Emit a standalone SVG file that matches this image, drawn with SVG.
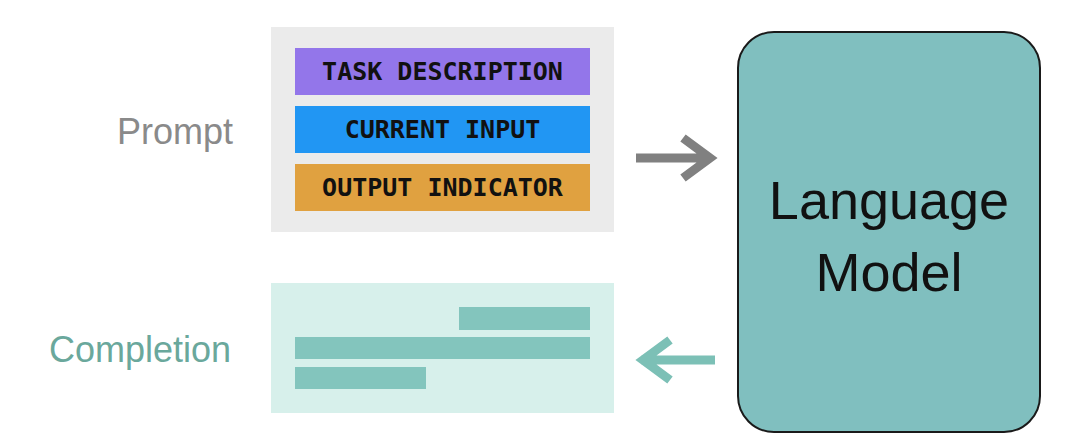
<svg xmlns="http://www.w3.org/2000/svg" width="1080" height="448" viewBox="0 0 1080 448">
<style>
.lbl{font-family:"Liberation Sans",Arial,sans-serif;font-size:36px;text-anchor:middle}
.mono{font-family:"DejaVu Sans Mono","Liberation Mono",monospace;font-size:25px;font-weight:bold;text-anchor:middle;fill:#111}
.big{font-size:54px}
.bar{fill:#83c5bd}
.arr{fill:none;stroke-width:9;stroke-linecap:butt}
</style>
<rect width="1080" height="448" fill="#fff"/>
<g id="prompt-label"><text class="lbl" x="175" y="144" fill="#8a8a8a">Prompt</text></g>
<g id="completion-label"><text class="lbl" x="140" y="362" fill="#6aa89c">Completion</text></g>
<g id="prompt">
<rect x="271" y="27" width="343" height="205" fill="#ebebeb"/>
<rect x="295" y="48" width="295" height="47" fill="#9376ea"/>
<text class="mono" x="442.5" y="80">TASK DESCRIPTION</text>
<rect x="295" y="106" width="295" height="47" fill="#2196f3"/>
<text class="mono" x="442.5" y="138">CURRENT INPUT</text>
<rect x="295" y="164" width="295" height="47" fill="#e0a140"/>
<text class="mono" x="442.5" y="196">OUTPUT INDICATOR</text>
</g>
<g id="completion">
<rect x="271" y="283" width="343" height="130" fill="#d7f0eb"/>
<rect class="bar" x="459" y="307" width="131" height="23"/>
<rect class="bar" x="295" y="337" width="295" height="22"/>
<rect class="bar" x="295" y="367" width="131" height="22"/>
</g>
<g id="language-model">
<rect x="738" y="32" width="302" height="400" rx="36" fill="#80bfbf" stroke="#1a1a1a" stroke-width="2"/>
<text class="lbl big" x="889" y="219" fill="#111">Language</text>
<text class="lbl big" x="889" y="291" fill="#111">Model</text>
</g>
<g id="connectors">
<path class="arr" stroke="#808080" d="M636 158H710M683 138L710 158L683 178"/>
<path class="arr" stroke="#7cc0b6" d="M715 360H641M670 340L643 360L670 380"/>
</g>
</svg>
